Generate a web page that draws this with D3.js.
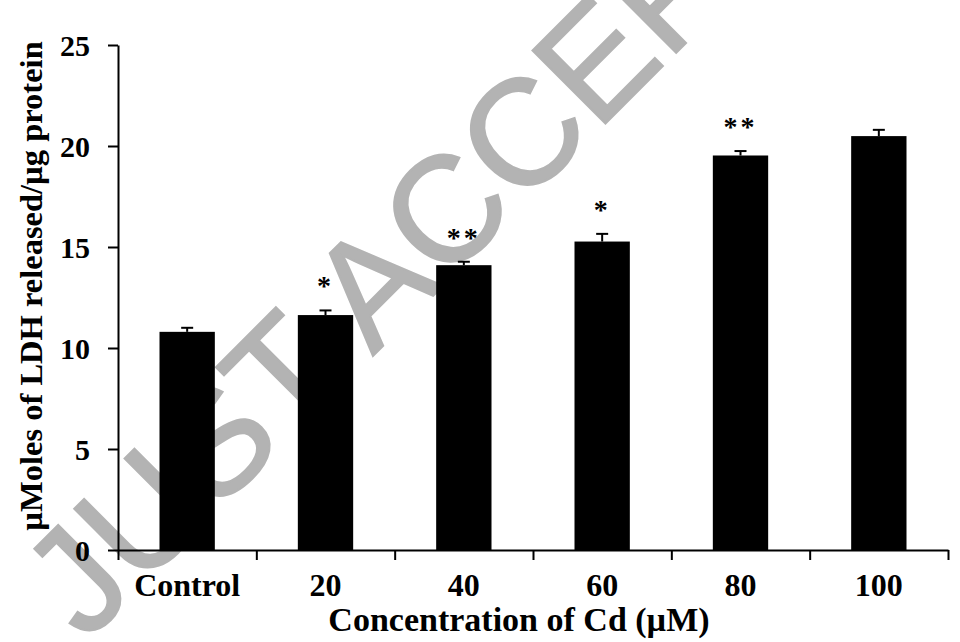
<!DOCTYPE html>
<html>
<head>
<meta charset="utf-8">
<script src="https://cdn.jsdelivr.net/npm/d3@7"></script>
<style>
  body { margin: 0; background: #fff; }
  svg text { font-family: "Liberation Serif", "Times New Roman", serif; font-weight: bold; }
</style>
</head>
<body>
<div id="chart"></div>
<script>
// values
const categories = ["Control", "20", "40", "60", "80", "100"];
const values = [10.8, 11.63, 14.1, 15.27, 19.53, 20.49];
const errors = [0.2, 0.23, 0.17, 0.38, 0.22, 0.31];
const marks = ["", "*", "**", "*", "**", ""];
const yTicks = [0, 5, 10, 15, 20, 25];

const width = 960, height = 642;
const plot = { left: 118, right: 948, top: 45, bottom: 550 };

const svg = d3.select("#chart").append("svg")
  .attr("width", width)
  .attr("height", height);

// watermark sits behind everything
svg.append("text")
  .attr("transform", "translate(86,643) rotate(-45)")
  .style("font-family", "'Liberation Sans', Arial, sans-serif")
  .style("font-weight", "normal")
  .style("font-size", "150px")
  .attr("fill", "#b3b3b3")
  .attr("stroke", "#b3b3b3")
  .attr("stroke-width", 2)
  .text("JUST ACCEPTED");

const x = d3.scaleBand()
  .domain(categories)
  .range([plot.left, plot.right])
  .paddingInner(0.6)
  .paddingOuter(0.3);

const xEdge = d3.scaleLinear()
  .domain([0, categories.length])
  .range([plot.left, plot.right]);

const y = d3.scaleLinear()
  .domain([0, 25])
  .range([plot.bottom, plot.top]);

const data = categories.map((c, i) => ({ cat: c, v: values[i], e: errors[i], m: marks[i] }));

// bars
svg.append("g")
  .selectAll("rect")
  .data(data)
  .join("rect")
  .attr("x", d => x(d.cat))
  .attr("y", d => y(d.v))
  .attr("width", x.bandwidth())
  .attr("height", d => y(0) - y(d.v))
  .attr("fill", "#000");

// error bars (upper only)
const eb = svg.append("g").attr("stroke", "#000").attr("stroke-width", 2);
eb.selectAll("line.v")
  .data(data)
  .join("line")
  .attr("class", "v")
  .attr("x1", d => x(d.cat) + x.bandwidth() / 2)
  .attr("x2", d => x(d.cat) + x.bandwidth() / 2)
  .attr("y1", d => y(d.v))
  .attr("y2", d => y(d.v + d.e));
eb.selectAll("line.c")
  .data(data)
  .join("line")
  .attr("class", "c")
  .attr("x1", d => x(d.cat) + x.bandwidth() / 2 - 6)
  .attr("x2", d => x(d.cat) + x.bandwidth() / 2 + 6)
  .attr("y1", d => y(d.v + d.e))
  .attr("y2", d => y(d.v + d.e));

// significance stars
svg.append("g")
  .selectAll("text")
  .data(data.filter(d => d.m))
  .join("text")
  .attr("x", d => x(d.cat) + x.bandwidth() / 2)
  .attr("y", d => y(d.v + d.e) - 15)
  .attr("text-anchor", "middle")
  .style("font-size", "28px")
  .style("letter-spacing", "3px")
  .text(d => d.m);

// y axis
const yAxis = svg.append("g")
  .attr("transform", `translate(${plot.left},0)`)
  .call(d3.axisLeft(y).tickValues(yTicks).tickSize(10).tickPadding(18).tickSizeOuter(0));
yAxis.select(".domain").attr("stroke-width", 2);
yAxis.selectAll(".tick line").attr("stroke-width", 2);
yAxis.selectAll(".tick text")
  .style("font-size", "30px")
  .attr("fill", "#000")
  .attr("dy", "0.34em");

// x axis: boundary ticks
const xAxis = svg.append("g")
  .attr("transform", `translate(0,${plot.bottom})`)
  .call(d3.axisBottom(xEdge).tickValues(d3.range(categories.length + 1)).tickFormat("").tickSize(10).tickSizeOuter(0));
xAxis.select(".domain").attr("stroke-width", 2);
xAxis.selectAll(".tick line").attr("stroke-width", 2);

// x category labels
const xLab = svg.append("g")
  .attr("transform", `translate(0,${plot.bottom})`)
  .call(d3.axisBottom(x).tickSize(0).tickPadding(0));
xLab.select(".domain").remove();
xLab.selectAll(".tick text")
  .style("font-size", "32px")
  .attr("fill", "#000")
  .attr("dy", null)
  .attr("y", 46);

// axis titles
svg.append("text")
  .attr("x", (plot.left + plot.right) / 2 - 14)
  .attr("y", 631)
  .attr("text-anchor", "middle")
  .style("font-size", "34px")
  .text("Concentration of Cd (µM)");

svg.append("text")
  .attr("transform", "translate(42,286) rotate(-90)")
  .attr("text-anchor", "middle")
  .style("font-size", "32.5px")
  .text("µMoles of LDH released/µg protein");
</script>
</body>
</html>
